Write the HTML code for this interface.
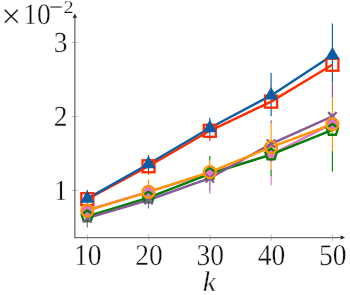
<!DOCTYPE html>
<html><head><meta charset="utf-8"><style>
html,body{margin:0;padding:0;background:#fff;}
svg{display:block;font-family:"Liberation Serif",serif;text-rendering:geometricPrecision;}
</style></head><body>
<svg width="350" height="295" viewBox="0 0 350 295">
<rect width="350" height="295" fill="#fff"/>
<g stroke="#888" stroke-width="0.55" fill="none">
<line x1="87.45" y1="234.6" x2="87.45" y2="240.8"/>
<line x1="148.7" y1="234.6" x2="148.7" y2="240.8"/>
<line x1="210.0" y1="234.6" x2="210.0" y2="240.8"/>
<line x1="271.2" y1="234.6" x2="271.2" y2="240.8"/>
<line x1="332.45" y1="234.6" x2="332.45" y2="240.8"/>
<line x1="72.0" y1="42.5" x2="77.9" y2="42.5"/>
<line x1="72.0" y1="116.5" x2="77.9" y2="116.5"/>
<line x1="72.0" y1="190.5" x2="77.9" y2="190.5"/>
</g>
<g stroke="#6c6c6c" stroke-width="1.3" fill="none">
<path d="M74.85,16.5V237.55H342"/>
</g>
<g fill="#222" stroke="none">
<path d="M74.85,13.5L77.15,18.2L74.85,17.4L72.55,18.2Z"/>
<path d="M345.0,237.55L340.3,239.85L341.1,237.55L340.3,235.25Z"/>
</g>
<g fill="none" stroke-width="1.15">
<line x1="87.3" y1="190" x2="87.3" y2="206" stroke="#0C5DA5"/>
<line x1="87.3" y1="206" x2="87.3" y2="222" stroke="#FF9500"/>
<line x1="87.3" y1="221" x2="87.3" y2="227.5" stroke="#845B97"/>
<line x1="148.5" y1="155" x2="148.5" y2="172" stroke="#0C5DA5"/>
<line x1="148.5" y1="172" x2="148.5" y2="174.7" stroke="#FF2C00"/>
<line x1="148.5" y1="179.3" x2="148.5" y2="200" stroke="#FF9500"/>
<line x1="148.5" y1="200" x2="148.5" y2="208.5" stroke="#845B97"/>
<line x1="209.8" y1="117.8" x2="209.8" y2="137" stroke="#0C5DA5"/>
<line x1="209.8" y1="137" x2="209.8" y2="141.1" stroke="#FF2C00"/>
<line x1="209.8" y1="155.9" x2="209.8" y2="160.4" stroke="#008000"/>
<line x1="209.8" y1="160.4" x2="209.8" y2="180" stroke="#FF9500"/>
<line x1="209.8" y1="180" x2="209.8" y2="191.3" stroke="#845B97"/>
<line x1="209.8" y1="191.3" x2="209.8" y2="193.8" stroke="#E377C2"/>
<line x1="271.1" y1="72.7" x2="271.1" y2="116.2" stroke="#0C5DA5"/>
<line x1="271.1" y1="120.3" x2="271.1" y2="123.5" stroke="#845B97"/>
<line x1="271.1" y1="123.5" x2="271.1" y2="169.6" stroke="#FF9500"/>
<line x1="271.1" y1="169.6" x2="271.1" y2="176" stroke="#008000"/>
<line x1="271.1" y1="176" x2="271.1" y2="185.5" stroke="#E377C2"/>
<line x1="332.4" y1="23.6" x2="332.4" y2="82.3" stroke="#0C5DA5"/>
<line x1="332.4" y1="82.3" x2="332.4" y2="97" stroke="#845B97"/>
<line x1="332.4" y1="97" x2="332.4" y2="151.2" stroke="#FF9500"/>
<line x1="332.4" y1="151.2" x2="332.4" y2="171.5" stroke="#008000"/>
</g>
<g fill="none" stroke-width="2.4" stroke-linejoin="round">
<polyline points="87.30,210.00 148.50,191.80 209.80,173.00 271.10,154.60 332.40,123.60" stroke="#E377C2"/>
<polyline points="87.30,216.30 148.50,197.60 209.80,173.90 271.10,154.60 332.40,129.90" stroke="#008000"/>
<polyline points="87.30,218.20 148.50,200.00 209.80,178.20 271.10,143.80 332.40,116.40" stroke="#845B97"/>
<polyline points="87.30,199.20 148.50,166.25 209.80,130.80 271.10,101.65 332.40,64.75" stroke="#FF2C00"/>
<polyline points="87.30,198.60 148.50,164.00 209.80,128.00 271.10,95.40 332.40,55.20" stroke="#0C5DA5"/>
<polyline points="87.30,210.70 148.50,191.90 209.80,172.20 271.10,147.20 332.40,124.20" stroke="#FF9500"/>
</g>
<g fill="none" stroke-width="2.3" stroke-linejoin="miter">
<g stroke="#E377C2">
<polygon points="87.30,204.00 91.80,210.00 87.30,216.00 82.80,210.00" fill="#E377C2"/>
<polygon points="148.50,185.80 153.00,191.80 148.50,197.80 144.00,191.80" fill="#E377C2"/>
<polygon points="209.80,167.00 214.30,173.00 209.80,179.00 205.30,173.00" fill="#E377C2"/>
<polygon points="271.10,148.60 275.60,154.60 271.10,160.60 266.60,154.60" fill="#E377C2"/>
<polygon points="332.40,117.60 336.90,123.60 332.40,129.60 327.90,123.60" fill="#E377C2"/>
</g>
<g stroke="#008000">
<polygon points="87.30,210.30 93.01,214.45 90.83,221.15 83.77,221.15 81.59,214.45"/>
<polygon points="148.50,191.60 154.21,195.75 152.03,202.45 144.97,202.45 142.79,195.75"/>
<polygon points="209.80,167.90 215.51,172.05 213.33,178.75 206.27,178.75 204.09,172.05"/>
<polygon points="271.10,148.60 276.81,152.75 274.63,159.45 267.57,159.45 265.39,152.75"/>
<polygon points="332.40,123.90 338.11,128.05 335.93,134.75 328.87,134.75 326.69,128.05"/>
</g>
<g stroke="#845B97">
<path d="M83.06,213.96L91.54,222.44M83.06,222.44L91.54,213.96"/>
<path d="M144.26,195.76L152.74,204.24M144.26,204.24L152.74,195.76"/>
<path d="M205.56,173.96L214.04,182.44M205.56,182.44L214.04,173.96"/>
<path d="M266.86,139.56L275.34,148.04M266.86,148.04L275.34,139.56"/>
<path d="M328.16,112.16L336.64,120.64M328.16,120.64L336.64,112.16"/>
</g>
<g stroke="#FF2C00">
<rect x="81.3" y="193.2" width="12.0" height="12.0"/>
<rect x="142.5" y="160.25" width="12.0" height="12.0"/>
<rect x="203.8" y="124.80000000000001" width="12.0" height="12.0"/>
<rect x="265.1" y="95.65" width="12.0" height="12.0"/>
<rect x="326.4" y="58.75" width="12.0" height="12.0"/>
</g>
<g stroke="#0C5DA5">
<polygon points="87.30,192.60 92.50,201.60 82.10,201.60" fill="#0C5DA5"/>
<polygon points="148.50,158.00 153.70,167.00 143.30,167.00" fill="#0C5DA5"/>
<polygon points="209.80,122.00 215.00,131.00 204.60,131.00" fill="#0C5DA5"/>
<polygon points="271.10,89.40 276.30,98.40 265.90,98.40" fill="#0C5DA5"/>
<polygon points="332.40,49.20 337.60,58.20 327.20,58.20" fill="#0C5DA5"/>
</g>
<g stroke="#FF9500">
<circle cx="87.3" cy="210.7" r="6.0"/>
<circle cx="148.5" cy="191.9" r="6.0"/>
<circle cx="209.8" cy="172.2" r="6.0"/>
<circle cx="271.1" cy="147.2" r="6.0"/>
<circle cx="332.4" cy="124.2" r="6.0"/>
</g>
</g>
<g fill="#111" stroke="#fff" stroke-width="0.32" opacity="0.999">
<text transform="translate(87.65,264.7) scale(0.93,1.02)" font-size="29.6" text-anchor="middle" >10</text>
<text transform="translate(148.89999999999998,264.7) scale(0.93,1.02)" font-size="29.6" text-anchor="middle" >20</text>
<text transform="translate(210.2,264.7) scale(0.93,1.02)" font-size="29.6" text-anchor="middle" >30</text>
<text transform="translate(271.4,264.7) scale(0.93,1.02)" font-size="29.6" text-anchor="middle" >40</text>
<text transform="translate(332.65,264.7) scale(0.93,1.02)" font-size="29.6" text-anchor="middle" >50</text>
<text transform="translate(67.6,51.7) scale(0.93,0.985)" font-size="29.6" text-anchor="end" >3</text>
<text transform="translate(67.6,125.7) scale(0.93,0.985)" font-size="29.6" text-anchor="end" >2</text>
<text transform="translate(67.6,199.7) scale(0.93,0.985)" font-size="29.6" text-anchor="end" >1</text>
<text transform="translate(209.3,291.0) scale(1.04,1.0)" font-size="28.4" text-anchor="middle" font-style="italic">k</text>
<text transform="translate(11.2,27.9) scale(1.0,1.0)" font-size="35.5" text-anchor="middle" stroke-width="0.3">×</text>
<text transform="translate(37,24.0) scale(0.93,1.0)" font-size="29.6" text-anchor="middle" >10</text>
<text transform="translate(56,13.5) scale(1.18,1.0)" font-size="21" text-anchor="middle" stroke="none">−</text>
<text transform="translate(68.6,12.6) scale(1.1,0.97)" font-size="18.5" text-anchor="middle" stroke-width="0.2">2</text>
</g>
</svg>
</body></html>
